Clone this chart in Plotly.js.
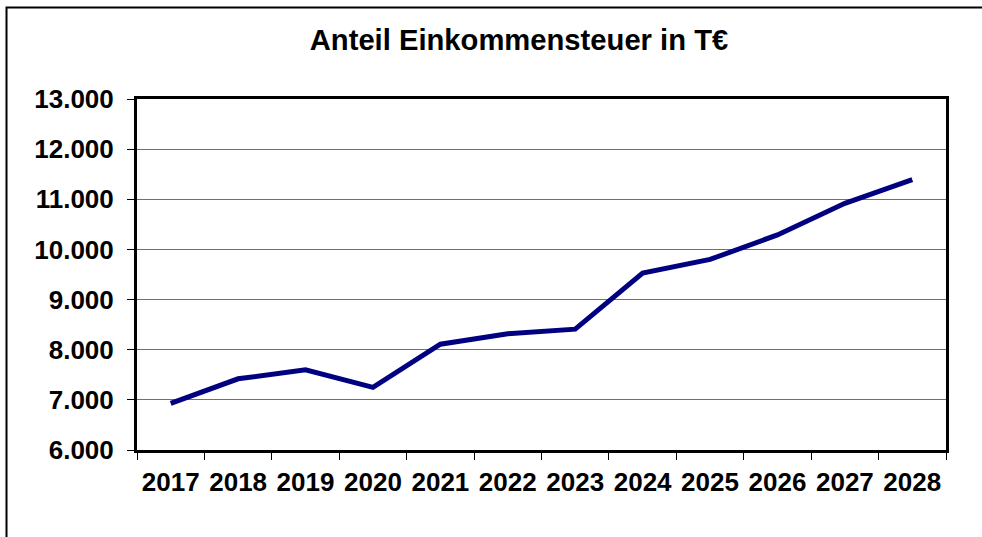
<!DOCTYPE html>
<html>
<head>
<meta charset="utf-8">
<script src="https://cdn.plot.ly/plotly-3.0.1.min.js"></script>
<style>html,body{margin:0;padding:0;background:#fff;}#chart{width:982px;height:537px;}</style>
</head>
<body>
<div id="chart"></div>
<script>
const years = ["2017","2018","2019","2020","2021","2022","2023","2024","2025","2026","2027","2028"];
const values = [6930, 7420, 7600, 7250, 8110, 8320, 8410, 9530, 9800, 10290, 10920, 11390];
const yTicks = [6000, 7000, 8000, 9000, 10000, 11000, 12000, 13000];
const yTickLabels = ["6.000","7.000","8.000","9.000","10.000","11.000","12.000","13.000"];
const titleText = "Anteil Einkommensteuer in T€";

const font = {family: "Liberation Sans, Arial, sans-serif", color: "#000"};

const trace = {
  type: "scatter",
  mode: "lines",
  x: years,
  y: values,
  line: {color: "#000080", width: 5},
  hoverinfo: "skip"
};

const layout = {
  width: 982,
  height: 537,
  margin: {l: 137, r: 36, t: 99, b: 87},
  paper_bgcolor: "#fff",
  plot_bgcolor: "#fff",
  showlegend: false,
  title: {
    text: "<b>" + titleText + "</b>",
    font: Object.assign({}, font, {size: 29.2}),
    x: 0.5285, xref: "container", xanchor: "center",
    y: 0.926, yref: "container", yanchor: "middle"
  },
  xaxis: {
    type: "category",
    range: [-0.5, 11.5],
    tickmode: "array",
    tickvals: years,
    ticktext: years.map(s => "<b>" + s + "</b>"),
    tickson: "boundaries",
    ticks: "outside",
    ticklen: 7,
    tickwidth: 1,
    tickcolor: "#000",
    showline: true,
    linecolor: "#000",
    linewidth: 3,
    mirror: true,
    showgrid: false,
    zeroline: false,
    ticklabelstandoff: 7,
    tickfont: Object.assign({}, font, {size: 26})
  },
  yaxis: {
    range: [6000, 13000],
    tickmode: "array",
    tickvals: yTicks,
    ticktext: yTickLabels.map(s => "<b>" + s + "</b>"),
    ticks: "outside",
    ticklen: 7,
    tickwidth: 1,
    tickcolor: "#000",
    showline: true,
    linecolor: "#000",
    linewidth: 3,
    mirror: true,
    showgrid: true,
    gridcolor: "#707070",
    gridwidth: 1,
    zeroline: false,
    ticklabelstandoff: 8,
    tickfont: Object.assign({}, font, {size: 26})
  },
  shapes: [{
    type: "rect",
    xref: "paper", yref: "paper",
    x0: -0.1613, x1: 2,
    y0: -2, y1: 1.2607,
    line: {color: "#000", width: 2},
    fillcolor: "rgba(0,0,0,0)",
    layer: "below"
  }]
};

Plotly.newPlot("chart", [trace], layout, {staticPlot: true, displayModeBar: false});
</script>
</body>
</html>
